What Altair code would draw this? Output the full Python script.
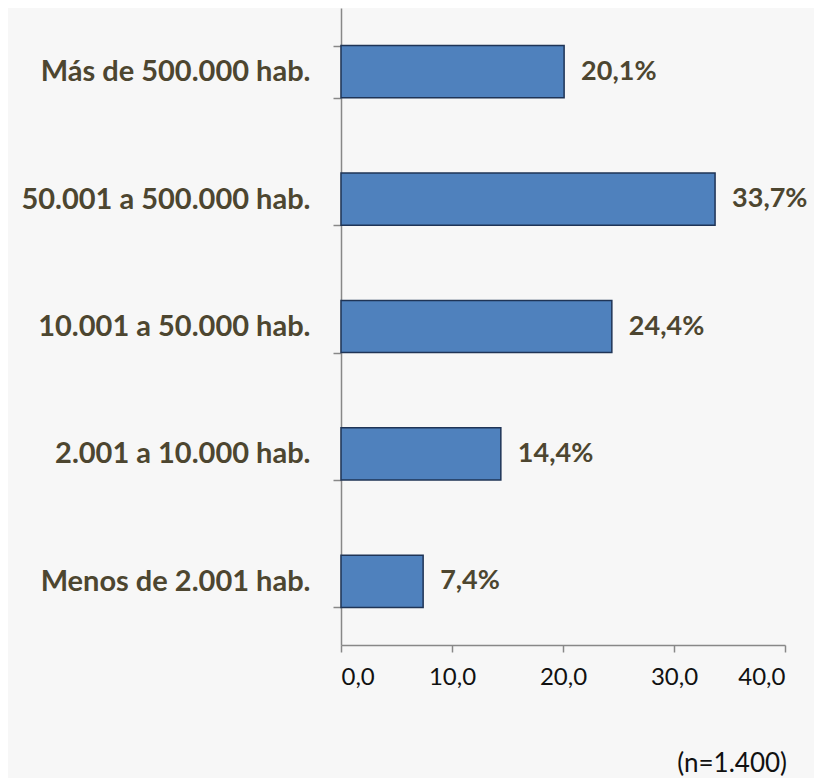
import altair as alt
import pandas as pd

categories = ["Más de 500.000 hab.", "50.001 a 500.000 hab.", "10.001 a 50.000 hab.",
              "2.001 a 10.000 hab.", "Menos de 2.001 hab."]
values = [20.1, 33.7, 24.4, 14.4, 7.4]
x_ticks = [0, 10, 20, 30, 40]
footnote = "(n=1.400)"

df = pd.DataFrame({"cat": categories, "val": values})
df["lab"] = [f"{v:.1f}".replace(".", ",") + "%" for v in values]

FONT = "Lato"
OLIVE = "#4d4630"

y_enc = alt.Y("cat:N", sort=categories, title=None,
              scale=alt.Scale(paddingInner=0.59, paddingOuter=0.295),
              axis=alt.Axis(tickBand="extent", tickSize=8, tickColor="#888888",
                            domainColor="#888888", domainWidth=1.5, tickWidth=1.5,
                            labelFont=FONT, labelFontSize=29, labelFontWeight="bold",
                            labelColor=OLIVE, labelPadding=23, labelLimit=400))
x_enc = alt.X("val:Q", title=None,
              scale=alt.Scale(domain=[0, 40], nice=False),
              axis=alt.Axis(values=x_ticks, tickSize=7, tickColor="#888888",
                            domainColor="#888888", domainWidth=1.5, tickWidth=1.5,
                            grid=False, labelFont=FONT, labelFontSize=24,
                            labelColor="#111111", labelPadding=13,
                            labelExpr="replace(format(datum.value, '.1f'), '.', ',')"))

bars = alt.Chart(df).mark_bar(color="#4f81bd", stroke="#1f3456", strokeWidth=1.5).encode(
    x=x_enc, y=y_enc)
texts = alt.Chart(df).mark_text(align="left", baseline="middle", dx=17, font=FONT,
                                fontSize=27, fontWeight="bold", color=OLIVE).encode(
    x="val:Q", y=alt.Y("cat:N", sort=categories), text="lab:N")

chart = (bars + texts).properties(
    width=444, height=637,
    background="#f7f7f7",
    padding={"left": 333, "top": 0, "right": 29, "bottom": 133},
    autosize=alt.AutoSizeParams(type="none"),
    title=alt.TitleParams(footnote, orient="bottom", anchor="end", frame="group",
                          font=FONT, fontSize=26, fontWeight="normal", color="#111111",
                          offset=62, dx=2),
).configure_view(stroke=None)

chart.save("out.html", embed_options={"renderer": "svg", "actions": False})
